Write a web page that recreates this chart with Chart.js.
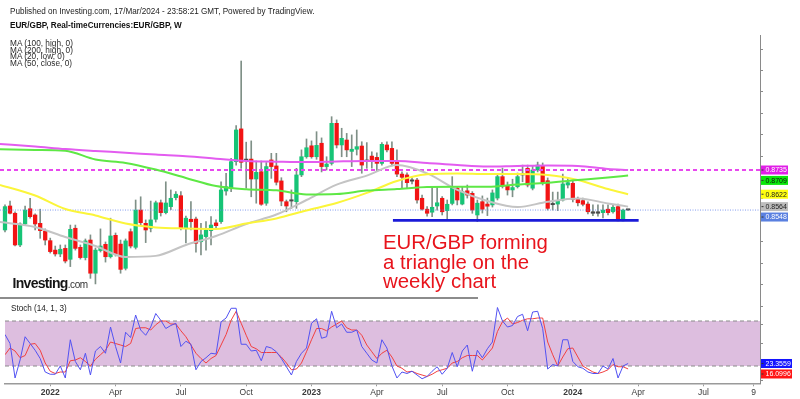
<!DOCTYPE html>
<html><head><meta charset="utf-8">
<script src="https://cdn.jsdelivr.net/npm/chart.js@4.4.1/dist/chart.umd.min.js"></script>
<style>
html,body{margin:0;padding:0;background:#fff;width:800px;height:399px;overflow:hidden;font-family:"Liberation Sans",Arial,sans-serif;}
canvas{position:absolute;left:0;}
#main{top:0;}
#stoch{top:298px;}
.t{position:absolute;white-space:nowrap;line-height:1;}
</style></head><body>
<canvas id="main" width="800" height="300" style="width:800px;height:300px"></canvas>
<canvas id="stoch" width="800" height="101" style="width:800px;height:101px"></canvas>
<div style="position:absolute;left:0;top:297px;width:478px;height:1.5px;background:#8c8c8c"></div>

<div class="t fit" data-w="305" data-cy="11.7" style="left:10px;top:6px;font-size:8px;color:#222">Published on Investing.com, 17/Mar/2024 - 23:58:21 GMT, Powered by TradingView.</div>
<div class="t fit" data-w="172" data-cy="26" style="left:10px;top:21px;font-size:8px;font-weight:bold;color:#111">EUR/GBP, Real-timeCurrencies:EUR/GBP, W</div>
<div class="t ma" data-cy="44.0" style="left:10px;font-size:8px;color:#2a2a2a">MA (100, high, 0)</div>
<div class="t ma" data-cy="50.8" style="left:10px;font-size:8px;color:#2a2a2a">MA (200, high, 0)</div>
<div class="t ma" data-cy="57.6" style="left:10px;font-size:8px;color:#2a2a2a">MA (20, low, 0)</div>
<div class="t ma" data-cy="64.4" style="left:10px;font-size:8px;color:#2a2a2a">MA (50, close, 0)</div>

<div class="t ann" data-cy="242" style="left:383px;font-size:20px;color:#e8141c">EUR/GBP forming</div>
<div class="t ann" data-cy="262" style="left:383px;font-size:20px;color:#e8141c">a triangle on the</div>
<div class="t ann" data-cy="281.5" style="left:383px;font-size:20px;color:#e8141c">weekly chart</div>

<div class="t" style="left:12.5px;top:276px;font-size:14px;font-weight:bold;color:#151515;letter-spacing:-0.7px">Investing<span style="font-size:10px;font-weight:normal;letter-spacing:-0.4px;color:#333">.com</span></div>

<div class="t fit" data-w="55.7" data-cy="309" style="left:11px;top:305px;font-size:8px;color:#222">Stoch (14, 1, 3)</div>

<script>
// ---------- DATA ----------
const opens = [
0.8455,0.8567,0.8533,0.8385,0.8483,0.8554,0.8525,0.8486,0.8450,0.8405,
0.8361,0.8343,0.8369,0.8318,0.8463,0.8374,0.8326,0.8408,0.8253,0.8359,
0.8388,0.8330,0.8430,0.8389,0.8276,0.8447,0.8374,0.8548,0.8486,0.8463,
0.8505,0.8582,0.8536,0.8564,0.8606,0.8615,0.8463,0.8505,0.8506,0.8400,
0.8424,0.8452,0.8488,0.8494,0.8637,0.8650,0.8774,0.8927,0.8780,0.8786,
0.8693,0.8727,0.8580,0.8782,0.8754,0.8684,0.8587,0.8590,0.8587,0.8712,
0.8797,0.8848,0.8797,0.8860,0.8751,0.8766,0.8953,0.8852,0.8875,0.8822,
0.8832,0.8847,0.8775,0.8800,0.8794,0.8766,0.8852,0.8836,0.8774,0.8716,
0.8712,0.8683,0.8688,0.8603,0.8552,0.8538,0.8567,0.8603,0.8545,0.8579,
0.8650,0.8576,0.8638,0.8626,0.8525,0.8587,0.8576,0.8572,0.8604,0.8704,
0.8660,0.8642,0.8657,0.8712,0.8743,0.8650,0.8735,0.8754,0.8685,0.8573,
0.8576,0.8595,0.8665,0.8673,0.8600,0.8592,0.8576,0.8540,0.8540,0.8536,
0.8552,0.8540,0.8564,0.8498,0.8549];
const highs = [
0.8572,0.8590,0.8540,0.8488,0.8567,0.8603,0.8530,0.8552,0.8460,0.8417,
0.8380,0.8385,0.8385,0.8478,0.8478,0.8385,0.8413,0.8432,0.8371,0.8460,
0.8399,0.8510,0.8441,0.8408,0.8413,0.8460,0.8595,0.8610,0.8502,0.8590,
0.8590,0.8595,0.8680,0.8642,0.8634,0.8634,0.8520,0.8587,0.8515,0.8486,
0.8494,0.8517,0.8502,0.8680,0.8720,0.8790,0.8942,0.9244,0.8865,0.8871,
0.8777,0.8777,0.8770,0.8813,0.8813,0.8699,0.8595,0.8642,0.8743,0.8829,
0.8880,0.8871,0.8914,0.8885,0.8797,0.8984,0.8969,0.8930,0.8906,0.8899,
0.8922,0.8867,0.8863,0.8820,0.8815,0.8863,0.8867,0.8867,0.8829,0.8727,
0.8722,0.8698,0.8696,0.8618,0.8564,0.8657,0.8657,0.8611,0.8595,0.8704,
0.8657,0.8657,0.8665,0.8634,0.8595,0.8614,0.8604,0.8642,0.8716,0.8744,
0.8679,0.8692,0.8721,0.8758,0.8758,0.8754,0.8772,0.8768,0.8698,0.8632,
0.8632,0.8716,0.8698,0.8684,0.8609,0.8604,0.8586,0.8572,0.8572,0.8572,
0.8572,0.8572,0.8576,0.8553,0.8551];
const lows = [
0.8446,0.8530,0.8380,0.8377,0.8480,0.8510,0.8455,0.8416,0.8385,0.8347,
0.8333,0.8330,0.8301,0.8284,0.8361,0.8319,0.8315,0.8229,0.8203,0.8352,
0.8305,0.8324,0.8333,0.8253,0.8268,0.8371,0.8366,0.8478,0.8396,0.8446,
0.8492,0.8520,0.8530,0.8550,0.8595,0.8455,0.8394,0.8455,0.8351,0.8338,
0.8361,0.8385,0.8464,0.8486,0.8618,0.8634,0.8758,0.8743,0.8650,0.8610,
0.8580,0.8570,0.8570,0.8696,0.8665,0.8568,0.8540,0.8556,0.8556,0.8704,
0.8790,0.8790,0.8785,0.8726,0.8735,0.8758,0.8838,0.8797,0.8797,0.8751,
0.8805,0.8720,0.8743,0.8744,0.8727,0.8758,0.8819,0.8754,0.8704,0.8650,
0.8650,0.8670,0.8580,0.8548,0.8520,0.8517,0.8548,0.8525,0.8502,0.8572,
0.8572,0.8572,0.8604,0.8533,0.8494,0.8534,0.8522,0.8562,0.8595,0.8651,
0.8618,0.8610,0.8651,0.8680,0.8656,0.8642,0.8726,0.8665,0.8548,0.8548,
0.8545,0.8590,0.8651,0.8586,0.8567,0.8567,0.8530,0.8522,0.8520,0.8511,
0.8525,0.8534,0.8497,0.8497,0.8546];
const closes = [
0.8564,0.8533,0.8385,0.8483,0.8548,0.8517,0.8483,0.8452,0.8408,0.8354,
0.8343,0.8365,0.8310,0.8458,0.8369,0.8326,0.8404,0.8253,0.8361,0.8380,
0.8330,0.8427,0.8343,0.8271,0.8404,0.8380,0.8548,0.8489,0.8455,0.8502,
0.8582,0.8536,0.8581,0.8603,0.8622,0.8463,0.8510,0.8494,0.8393,0.8432,
0.8455,0.8478,0.8475,0.8642,0.8657,0.8774,0.8922,0.8771,0.8785,0.8693,
0.8724,0.8575,0.8751,0.8751,0.8678,0.8590,0.8567,0.8593,0.8712,0.8797,
0.8839,0.8797,0.8850,0.8751,0.8763,0.8953,0.8852,0.8883,0.8829,0.8832,
0.8844,0.8758,0.8782,0.8774,0.8766,0.8855,0.8829,0.8766,0.8716,0.8701,
0.8676,0.8686,0.8595,0.8552,0.8533,0.8561,0.8582,0.8540,0.8575,0.8650,
0.8595,0.8634,0.8618,0.8548,0.8580,0.8552,0.8566,0.8628,0.8704,0.8660,
0.8642,0.8653,0.8704,0.8716,0.8665,0.8735,0.8758,0.8673,0.8556,0.8577,
0.8592,0.8670,0.8676,0.8598,0.8582,0.8575,0.8540,0.8533,0.8533,0.8548,
0.8536,0.8561,0.8498,0.8548,0.8548];

// moving averages at these week positions
const maWeeks   = [-1,6,12,18,24,30,36,42,48,54,60,66,72,78,84,90,96,102,108,114,120,124];
const ma200High = [0.8857,0.8845,0.8833,0.8824,0.8816,0.8807,0.8799,0.8788,0.8777,0.8774,0.8772,0.8775,0.8777,0.8777,0.8768,0.8758,0.8751,0.8754,0.8756,0.8754,0.8740,0.8735];
const ma100High = [0.8832,0.8829,0.8825,0.8784,0.8768,0.8737,0.8698,0.8660,0.8645,0.8640,0.8621,0.8623,0.8639,0.8646,0.8656,0.8657,0.8657,0.8667,0.8676,0.8688,0.8700,0.8709];
const ma50Close = [0.8665,0.8616,0.8553,0.8523,0.8485,0.8467,0.8462,0.8460,0.8485,0.8509,0.8546,0.8581,0.8628,0.8684,0.8715,0.8719,0.8716,0.8716,0.8712,0.8688,0.8646,0.8622];
const ma20Low   = [0.8492,0.8469,0.8422,0.8380,0.8329,0.8334,0.8385,0.8427,0.8483,0.8527,0.8595,0.8667,0.8709,0.8758,0.8719,0.8642,0.8590,0.8562,0.8587,0.8602,0.8579,0.8564];

const hLineLevel = 0.8735;     // dashed magenta level
const supportLevel = 0.8500;   // blue support
const supportWeeks = [77.2, 126.1];

const stochK = [62,50,4,28,59,50,41,30,12,9, 9,20,4,55,26,15,37,8,40,46, 37,72,46,24,65,58,88,68,61,72,
 90,81,70,74,77,46,53,49,15,26, 31,37,36,79,84,97,97,49,49,40, 41,27,46,44,39,30,19,8,26,37,
 44,77,83,57,59,93,71,76,65,65, 68,46,37,28,24,55,44,20,4,12, 10,13,8,3,6,13,19,9,17,38,
 19,40,48,13,41,31,43,52,98,80, 72,74,86,89,67,92,93,70,16,22, 20,55,55,26,19,17,12,10,10,20,
 16,30,4,20,23.3559];
const stochD = [35,44,40,31,34,49,50,41,24,13, 10,12,12,27,28,31,26,20,29,35, 41,52,50,48,46,50,70,71,71,68,
 75,80,80,76,76,67,59,48,37,30, 24,30,34,48,62,81,93,77,61,46, 43,38,38,38,38,32,24,15,16,24,
 39,55,70,70,67,72,76,80,71,68, 68,61,48,39,30,37,41,32,20,17, 12,13,10,8,6,9,13,15,17,24,
 26,31,34,34,34,28,36,44,66,79, 84,76,78,81,83,83,84,84,52,35, 20,32,43,44,32,20,16,12,10,12,
 15,22,19,19,16.0996];

const priceTicks = [0.82,0.83,0.84,0.85,0.86,0.87,0.88,0.89,0.90,0.91,0.92,0.93];
const stochTicks = [0,25,50,75,100];
const xTickWeeks  = [9,22,35,48,61,74,87,100,113,126,139,149];
const xTickLabels = ['2022','Apr','Jul','Oct','2023','Apr','Jul','Oct','2024','Apr','Jul','9'];

// ---------- TEXT FITTING ----------
function placeY(el){ const fs=parseFloat(el.style.fontSize); el.style.top=(parseFloat(el.dataset.cy)-0.5*fs)+'px'; }
document.querySelectorAll('.fit').forEach(el=>{
  const w=parseFloat(el.dataset.w), fs=parseFloat(el.style.fontSize);
  el.style.fontSize=(fs*w/el.getBoundingClientRect().width)+'px'; placeY(el);
});
(function(){
  const ma=[...document.querySelectorAll('.ma')];
  const fs=parseFloat(ma[0].style.fontSize)*63/ma[0].getBoundingClientRect().width;
  ma.forEach(el=>{el.style.fontSize=fs+'px';placeY(el);});
  const an=[...document.querySelectorAll('.ann')];
  const fa=parseFloat(an[0].style.fontSize)*165/an[0].getBoundingClientRect().width;
  an.forEach(el=>{el.style.fontSize=fa+'px';placeY(el);});
})();

// ---------- HELPERS ----------
const FONT='"Liberation Sans", Arial, sans-serif';
const idx = closes.map((_,i)=>i);
const pts = (ws, vs)=> ws.map((w,k)=>({x:w,y:vs[k]}));
function drawLabels(chart, items, x0, w, gap){
  const ctx=chart.ctx, ys=chart.scales.y;
  const arr=items.map(it=>Object.assign({},it,{y:ys.getPixelForValue(it.value)})).sort((a,b)=>a.y-b.y);
  for(let k=1;k<arr.length;k++) if(arr[k].y<arr[k-1].y+gap) arr[k].y=arr[k-1].y+gap;
  ctx.save(); ctx.font='7px '+FONT; ctx.textBaseline='middle';
  arr.forEach(it=>{
    ctx.fillStyle=it.bg; ctx.fillRect(x0,it.y-4.5,w,9);
    ctx.fillStyle=it.fg; ctx.fillText(it.text,x0+4.5,it.y+0.5);
    ctx.fillStyle='#333'; ctx.fillRect(x0+0.5,it.y-0.5,2,1);
  });
  ctx.restore();
}

const GREEN='#16c476', RED='#f21414', WICK='#7f9087', DOJI='#4a4a4a';
const bodyColors = idx.map(i=> Math.abs(closes[i]-opens[i])<0.0008 ? DOJI : (closes[i]>=opens[i]?GREEN:RED));
const last = closes.length-1;

// ---------- MAIN CHART ----------
new Chart(document.getElementById('main'),{
  type:'bar',
  data:{datasets:[
    {type:'line',data:pts(maWeeks,ma200High),borderColor:'#e35cf0',borderWidth:2,pointRadius:0,cubicInterpolationMode:'monotone',order:0},
    {type:'line',data:pts(maWeeks,ma100High),borderColor:'#5ee845',borderWidth:2,pointRadius:0,cubicInterpolationMode:'monotone',order:0},
    {type:'line',data:pts(maWeeks,ma50Close),borderColor:'#fbf53a',borderWidth:2,pointRadius:0,cubicInterpolationMode:'monotone',order:0},
    {type:'line',data:pts(maWeeks,ma20Low),borderColor:'#c4c4c4',borderWidth:2,pointRadius:0,cubicInterpolationMode:'monotone',order:0},
    {type:'line',data:[{x:-0.995,y:hLineLevel},{x:150.25,y:hLineLevel}],borderColor:'#e848ee',borderWidth:1.8,borderDash:[4,3],pointRadius:0,order:0},
    {type:'line',data:[{x:-0.995,y:closes[last]},{x:150.25,y:closes[last]}],borderColor:'rgba(110,140,235,0.85)',borderWidth:1,borderDash:[1,1.5],pointRadius:0,order:0},
    {type:'line',data:[{x:supportWeeks[0],y:supportLevel},{x:supportWeeks[1],y:supportLevel}],borderColor:'#1a1ad8',borderWidth:2.6,pointRadius:0,order:0},
    {type:'bar',data:idx.map(i=>({x:i,y:[opens[i],closes[i]]})),backgroundColor:bodyColors,barThickness:3.6,minBarLength:1.3,grouped:false,order:1},
    {type:'bar',data:idx.map(i=>({x:i,y:[lows[i],highs[i]]})),backgroundColor:WICK,barThickness:1,grouped:false,order:2}
  ]},
  options:{
    responsive:false,animation:false,events:[],
    layout:{padding:{top:35,bottom:2,left:0,right:0}},
    plugins:{legend:{display:false},tooltip:{enabled:false}},
    scales:{
      x:{type:'linear',min:-0.995,max:150.25,display:false,offset:false,grid:{offset:false}},
      y:{position:'right',min:0.81373,max:0.93655,
         afterBuildTicks:a=>{a.ticks=priceTicks.map(v=>({value:v}));},
         afterFit:a=>{a.width=40;},
         ticks:{display:false},
         grid:{drawOnChartArea:false,drawTicks:true,tickLength:3,color:'#8a8a8a'},
         border:{display:true,color:'#8a8a8a',width:1}}
    }
  },
  plugins:[{id:'priceLabels',afterDraw(c){
    drawLabels(c,[
      {value:ma200High[ma200High.length-1],text:ma200High[ma200High.length-1].toFixed(4),bg:'#e01ee6',fg:'#fff'},
      {value:ma100High[ma100High.length-1],text:ma100High[ma100High.length-1].toFixed(4),bg:'#0ae60a',fg:'#111'},
      {value:ma50Close[ma50Close.length-1],text:ma50Close[ma50Close.length-1].toFixed(4),bg:'#ffff10',fg:'#222'},
      {value:ma20Low[ma20Low.length-1],text:ma20Low[ma20Low.length-1].toFixed(4),bg:'#bcbcbc',fg:'#222'},
      {value:closes[last],text:closes[last].toFixed(4),bg:'#5a80e0',fg:'#fff'}
    ],761,27,10.4);
  }}]
});

// ---------- STOCH CHART ----------
new Chart(document.getElementById('stoch'),{
  type:'line',
  data:{datasets:[
    {data:pts(idx,stochK),borderColor:'#5252f2',borderWidth:1,pointRadius:0,tension:0},
    {data:pts(idx,stochD),borderColor:'#f24040',borderWidth:1,pointRadius:0,tension:0}
  ]},
  options:{
    responsive:false,animation:false,events:[],
    layout:{padding:{top:0,bottom:0,left:5,right:0}},
    plugins:{legend:{display:false},tooltip:{enabled:false}},
    scales:{
      x:{type:'linear',min:0,max:150.25,offset:false,
         afterBuildTicks:a=>{a.ticks=xTickWeeks.map(v=>({value:v}));},
         afterFit:a=>{a.height=15.7;},
         ticks:{autoSkip:false,maxRotation:0,minRotation:0,padding:1,color:'#3a3a3a',
           callback:v=>xTickLabels[xTickWeeks.indexOf(v)],
           font:c=>{const l=xTickLabels[xTickWeeks.indexOf(c.tick?c.tick.value:-1)]||'';return {family:FONT,size:8.5,weight:/^\d{4}$/.test(l)?'bold':'normal'};}},
         grid:{drawOnChartArea:false,drawTicks:true,tickLength:3,color:'#9a9a9a'},
         border:{display:true,color:'#9a9a9a',width:1.5}},
      y:{position:'right',min:-3.07,max:110.7,
         afterBuildTicks:a=>{a.ticks=stochTicks.map(v=>({value:v}));},
         afterFit:a=>{a.width=40;},
         ticks:{display:false},
         grid:{drawOnChartArea:false,drawTicks:true,tickLength:3,color:'#8a8a8a'},
         border:{display:true,color:'#8a8a8a',width:1}}
    }
  },
  plugins:[{id:'band',beforeDatasetsDraw(c){
    const ctx=c.ctx,a=c.chartArea,ys=c.scales.y;
    const y80=ys.getPixelForValue(80),y20=ys.getPixelForValue(20);
    ctx.save();
    ctx.fillStyle='rgb(221,190,223)'; ctx.fillRect(a.left,y80,a.right-a.left,y20-y80);
    ctx.strokeStyle='#8c8c8c'; ctx.lineWidth=1.2; ctx.setLineDash([4,3]);
    [y80,y20].forEach(y=>{ctx.beginPath();ctx.moveTo(a.left,y);ctx.lineTo(a.right,y);ctx.stroke();});
    ctx.restore();
  },afterDraw(c){
    drawLabels(c,[
      {value:stochK[last],text:stochK[last].toFixed(4),bg:'#1414ff',fg:'#fff'},
      {value:stochD[last],text:stochD[last].toFixed(4),bg:'#ff1414',fg:'#fff'}
    ],761,31,10.5);
  }}]
});
</script>
</body></html>
